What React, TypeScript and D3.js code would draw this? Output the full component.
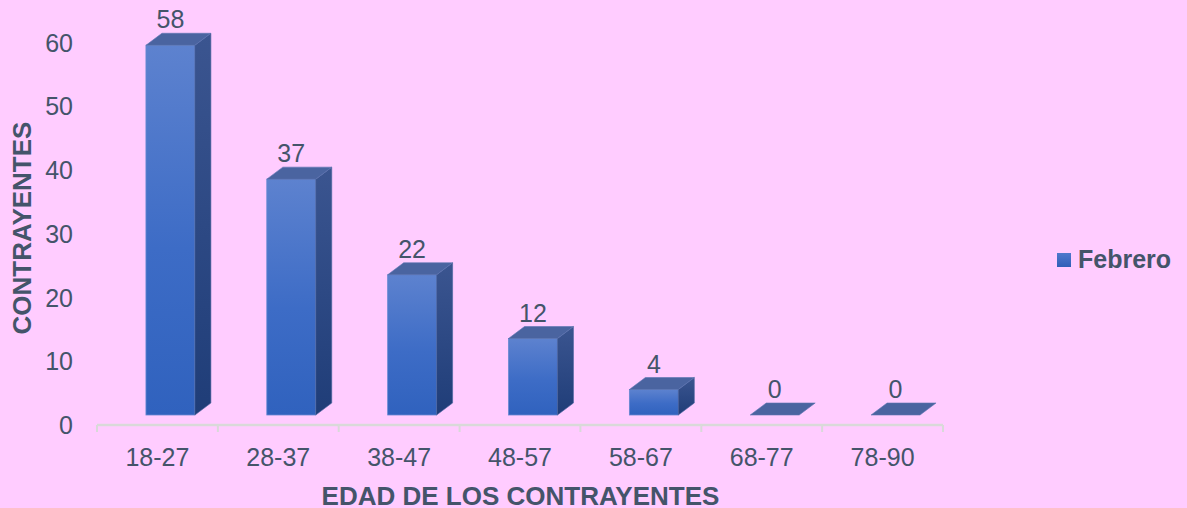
import React from 'react';
import * as d3 from 'd3';

const categories = ['18-27', '28-37', '38-47', '48-57', '58-67', '68-77', '78-90'];
const febrero = [58, 37, 22, 12, 4, 0, 0];
const yTicks = [0, 10, 20, 30, 40, 50, 60];
const seriesName = 'Febrero';
const xTitle = 'EDAD DE LOS CONTRAYENTES';
const yTitle = 'CONTRAYENTES';

const W = 1187;
const H = 508;
const textColor = '#44546a';
const font = '"Liberation Sans", Arial, sans-serif';

export default function App() {
  // axis floor sits 10px below the front-face floor of the 3d bars
  const axisY = 425;
  const floorY = 415;
  const depthX = 16;
  const depthY = 12;

  const x = d3.scaleBand<string>().domain(categories).range([97, 943]).paddingInner(0).paddingOuter(0);
  const yAxis = d3.scaleLinear().domain([0, 60]).range([axisY, 42.5]);
  const yBar = d3.scaleLinear().domain([0, 60]).range([floorY, floorY - (axisY - 42.5)]);

  const bw = x.bandwidth() * 0.405;
  const bars = categories.map((c, i) => {
    const x0 = (x(c) as number) + x.bandwidth() * 0.405;
    const y0 = yBar(febrero[i]);
    return { c, v: febrero[i], x0, x1: x0 + bw, yTop: y0 };
  });

  const bounds = x.domain().map(c => x(c) as number).concat([x.range()[1]]);

  return (
    <svg width={W} height={H} style={{ position: 'fixed', left: 0, top: 0, background: '#ffccff' }}
      fontFamily={font}>
      <defs>
        <linearGradient id="front" x1="0" y1="0" x2="0" y2="1">
          <stop offset="0" stopColor="#5d82cf" />
          <stop offset="0.55" stopColor="#3d6cc6" />
          <stop offset="1" stopColor="#3062be" />
        </linearGradient>
        <linearGradient id="side" x1="0" y1="0" x2="0" y2="1">
          <stop offset="0" stopColor="#3b5590" />
          <stop offset="1" stopColor="#1f3d78" />
        </linearGradient>
        <linearGradient id="leg" x1="0" y1="0" x2="0" y2="1">
          <stop offset="0" stopColor="#4f78cc" />
          <stop offset="1" stopColor="#2f5fb8" />
        </linearGradient>
      </defs>
      <rect width={W} height={H} fill="#ffccff" />

      {/* y tick labels */}
      {yTicks.map(t => (
        <text key={t} x={73} y={yAxis(t)} dy="0.36em" textAnchor="end" fontSize={25} fill={textColor}>{t}</text>
      ))}

      {/* x axis */}
      <line x1={x.range()[0]} x2={x.range()[1]} y1={axisY} y2={axisY} stroke="#d9d9d9" strokeWidth={2.5} />
      {bounds.map((b, i) => (
        <line key={i} x1={b} x2={b} y1={axisY} y2={axisY + 7} stroke="#d9d9d9" strokeWidth={2} />
      ))}
      {categories.map(c => (
        <text key={c} x={(x(c) as number) + x.bandwidth() / 2} y={466} textAnchor="middle" fontSize={25} fill={textColor}>{c}</text>
      ))}

      {/* 3d bars */}
      {bars.map(b => (
        <g key={b.c}>
          {b.v > 0 && (
            <rect x={b.x0} y={b.yTop} width={bw} height={floorY - b.yTop} fill="url(#front)" stroke="#6688d0" strokeWidth={0.8} />
          )}
          {b.v > 0 && (
            <path d={`M${b.x1},${b.yTop}L${b.x1 + depthX},${b.yTop - depthY}L${b.x1 + depthX},${floorY - depthY}L${b.x1},${floorY}Z`}
              fill="url(#side)" stroke="#4a64a0" strokeWidth={0.6} />
          )}
          <path d={`M${b.x0},${b.yTop}L${b.x0 + depthX},${b.yTop - depthY}L${b.x1 + depthX},${b.yTop - depthY}L${b.x1},${b.yTop}Z`}
            fill="#4a64a0" stroke="#5a74b0" strokeWidth={0.6} />
          <text x={(b.x0 + b.x1) / 2} y={b.yTop - 17} textAnchor="middle" fontSize={25} fill={textColor}>{b.v}</text>
        </g>
      ))}

      {/* axis titles */}
      <text transform={`translate(31,228) rotate(-90)`} textAnchor="middle" fontSize={26} fontWeight="bold" fill={textColor}>{yTitle}</text>
      <text x={520.5} y={505} textAnchor="middle" fontSize={26} fontWeight="bold" fill={textColor}>{xTitle}</text>

      {/* legend */}
      <rect x={1057} y={253} width={14} height={14} fill="url(#leg)" />
      <text x={1078} y={268} fontSize={25} fontWeight="bold" fill={textColor}>{seriesName}</text>
    </svg>
  );
}
